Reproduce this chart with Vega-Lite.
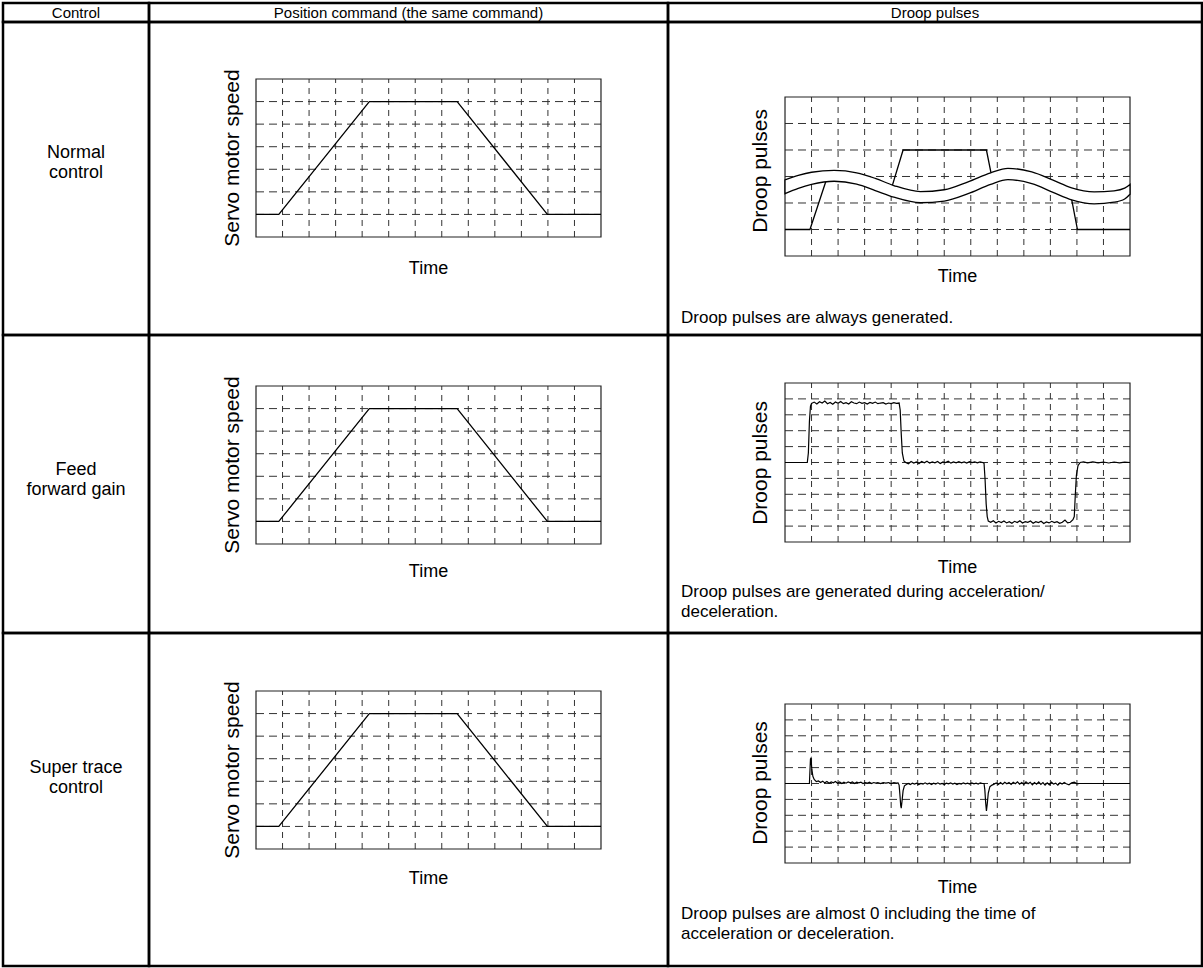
{
  "$schema": "https://vega.github.io/schema/vega-lite/v6.json",
  "background": "white",
  "padding": {"left": 1, "top": 1, "right": 0, "bottom": 1},
  "config": {"font": "Liberation Sans", "view": {"stroke": null}, "text": {"fontSize": 16, "color": "black"}},
  "datasets": {
    "vt": [{"t": 1}, {"t": 2}, {"t": 3}, {"t": 4}, {"t": 5}, {"t": 6}, {"t": 7}, {"t": 8}, {"t": 9}, {"t": 10}, {"t": 11}, {"t": 12}],
    "h7": [{"lv": 1}, {"lv": 2}, {"lv": 3}, {"lv": 4}, {"lv": 5}, {"lv": 6}],
    "h6": [{"lv": 1}, {"lv": 2}, {"lv": 3}, {"lv": 4}, {"lv": 5}],
    "h10": [{"lv": 1}, {"lv": 2}, {"lv": 3}, {"lv": 4}, {"lv": 5}, {"lv": 6}, {"lv": 7}, {"lv": 8}, {"lv": 9}],
    "speed": [{"t": 0, "v": 1}, {"t": 0.86, "v": 1}, {"t": 4.27, "v": 6}, {"t": 7.58, "v": 6}, {"t": 10.98, "v": 1}, {"t": 13, "v": 1}],
    "droop1": [
      {"seg": "a", "t": 0, "v": 1}, {"seg": "a", "t": 0.94, "v": 1}, {"seg": "a", "t": 1.6, "v": 3.0},
      {"seg": "b", "t": 3.98, "v": 2.45}, {"seg": "b", "t": 4.45, "v": 4}, {"seg": "b", "t": 7.59, "v": 4}, {"seg": "b", "t": 7.8, "v": 2.95},
      {"seg": "c", "t": 10.77, "v": 2.3}, {"seg": "c", "t": 11.02, "v": 1}, {"seg": "c", "t": 13, "v": 1}
    ],
    "band": [
      {"t": 0, "top": 2.87, "bot": 2.35}, {"t": 0.5, "top": 3.04, "bot": 2.55}, {"t": 1.0, "top": 3.16, "bot": 2.70},
      {"t": 1.85, "top": 3.23, "bot": 2.82}, {"t": 2.7, "top": 3.14, "bot": 2.71}, {"t": 3.4, "top": 2.93, "bot": 2.47},
      {"t": 4.1, "top": 2.66, "bot": 2.22}, {"t": 5.1, "top": 2.43, "bot": 2.01}, {"t": 6.0, "top": 2.50, "bot": 2.07},
      {"t": 6.9, "top": 2.80, "bot": 2.35}, {"t": 7.75, "top": 3.14, "bot": 2.70}, {"t": 8.4, "top": 3.31, "bot": 2.88},
      {"t": 9.3, "top": 3.17, "bot": 2.73}, {"t": 10.1, "top": 2.86, "bot": 2.40}, {"t": 10.8, "top": 2.57, "bot": 2.12},
      {"t": 11.65, "top": 2.42, "bot": 1.97}, {"t": 12.4, "top": 2.46, "bot": 2.03}, {"t": 12.8, "top": 2.56, "bot": 2.15},
      {"t": 13.0, "top": 2.70, "bot": 2.33}
    ],
    "droop2": [
      {"t": 0, "v": 5.0}, {"t": 0.5, "v": 5.0}, {"t": 0.84, "v": 5.0}, {"t": 0.88, "v": 5.6}, {"t": 0.92, "v": 7.6}, {"t": 0.96, "v": 8.55},
      {"t": 1.0, "v": 8.72}, {"t": 1.1, "v": 8.80}, {"t": 1.2, "v": 8.68}, {"t": 1.3, "v": 8.82}, {"t": 1.4, "v": 8.74}, {"t": 1.5, "v": 8.86},
      {"t": 1.6, "v": 8.70}, {"t": 1.7, "v": 8.78}, {"t": 1.8, "v": 8.66}, {"t": 1.9, "v": 8.80}, {"t": 2.0, "v": 8.72}, {"t": 2.1, "v": 8.84},
      {"t": 2.2, "v": 8.70}, {"t": 2.3, "v": 8.76}, {"t": 2.4, "v": 8.68}, {"t": 2.5, "v": 8.82}, {"t": 2.6, "v": 8.74}, {"t": 2.7, "v": 8.70},
      {"t": 2.8, "v": 8.80}, {"t": 2.9, "v": 8.72}, {"t": 3.0, "v": 8.76}, {"t": 3.1, "v": 8.68}, {"t": 3.2, "v": 8.78}, {"t": 3.3, "v": 8.72},
      {"t": 3.4, "v": 8.80}, {"t": 3.5, "v": 8.70}, {"t": 3.6, "v": 8.74}, {"t": 3.7, "v": 8.76}, {"t": 3.8, "v": 8.68}, {"t": 3.9, "v": 8.74},
      {"t": 4.0, "v": 8.70}, {"t": 4.1, "v": 8.76}, {"t": 4.2, "v": 8.72}, {"t": 4.3, "v": 8.74}, {"t": 4.34, "v": 8.3}, {"t": 4.38, "v": 6.8},
      {"t": 4.42, "v": 5.6}, {"t": 4.48, "v": 5.1}, {"t": 4.55, "v": 5.0}, {"t": 4.65, "v": 4.92}, {"t": 4.75, "v": 5.06}, {"t": 4.85, "v": 4.96},
      {"t": 4.95, "v": 5.04}, {"t": 5.05, "v": 4.94}, {"t": 5.15, "v": 5.06}, {"t": 5.25, "v": 4.98}, {"t": 5.35, "v": 5.08}, {"t": 5.45, "v": 4.96},
      {"t": 5.55, "v": 5.04}, {"t": 5.65, "v": 4.98}, {"t": 5.75, "v": 5.06}, {"t": 5.85, "v": 4.94}, {"t": 5.95, "v": 5.04}, {"t": 6.05, "v": 5.0},
      {"t": 6.15, "v": 5.08}, {"t": 6.25, "v": 4.96}, {"t": 6.35, "v": 5.04}, {"t": 6.45, "v": 4.98}, {"t": 6.55, "v": 5.06}, {"t": 6.65, "v": 4.98},
      {"t": 6.75, "v": 5.04}, {"t": 6.85, "v": 4.96}, {"t": 6.95, "v": 5.06}, {"t": 7.05, "v": 5.0}, {"t": 7.15, "v": 5.04}, {"t": 7.25, "v": 4.98},
      {"t": 7.35, "v": 5.04}, {"t": 7.45, "v": 5.0}, {"t": 7.5, "v": 4.95}, {"t": 7.54, "v": 3.9}, {"t": 7.58, "v": 2.4}, {"t": 7.62, "v": 1.6},
      {"t": 7.66, "v": 1.32}, {"t": 7.75, "v": 1.24}, {"t": 7.85, "v": 1.34}, {"t": 7.95, "v": 1.20}, {"t": 8.05, "v": 1.30}, {"t": 8.15, "v": 1.22},
      {"t": 8.25, "v": 1.32}, {"t": 8.35, "v": 1.20}, {"t": 8.45, "v": 1.28}, {"t": 8.55, "v": 1.18}, {"t": 8.65, "v": 1.30}, {"t": 8.75, "v": 1.22},
      {"t": 8.85, "v": 1.34}, {"t": 8.95, "v": 1.20}, {"t": 9.05, "v": 1.28}, {"t": 9.15, "v": 1.24}, {"t": 9.25, "v": 1.32}, {"t": 9.35, "v": 1.18},
      {"t": 9.45, "v": 1.28}, {"t": 9.55, "v": 1.22}, {"t": 9.65, "v": 1.30}, {"t": 9.75, "v": 1.16}, {"t": 9.85, "v": 1.26}, {"t": 9.95, "v": 1.20},
      {"t": 10.05, "v": 1.30}, {"t": 10.15, "v": 1.22}, {"t": 10.25, "v": 1.28}, {"t": 10.35, "v": 1.18}, {"t": 10.45, "v": 1.24}, {"t": 10.55, "v": 1.38},
      {"t": 10.65, "v": 1.20}, {"t": 10.75, "v": 1.24}, {"t": 10.85, "v": 1.40}, {"t": 10.9, "v": 1.6}, {"t": 10.94, "v": 3.0}, {"t": 10.98, "v": 4.2},
      {"t": 11.04, "v": 4.8}, {"t": 11.12, "v": 5.0}, {"t": 11.25, "v": 5.04}, {"t": 11.4, "v": 4.98}, {"t": 11.6, "v": 5.04}, {"t": 11.8, "v": 4.98},
      {"t": 12.0, "v": 5.03}, {"t": 12.2, "v": 4.97}, {"t": 12.4, "v": 5.03}, {"t": 12.6, "v": 4.98}, {"t": 12.8, "v": 5.02}, {"t": 13.0, "v": 5.0}
    ],
    "droop3": [
      {"t": 0, "v": 5.0}, {"t": 0.5, "v": 5.0}, {"t": 0.92, "v": 5.0}, {"t": 0.94, "v": 5.8}, {"t": 0.96, "v": 6.55}, {"t": 0.98, "v": 6.6},
      {"t": 1.01, "v": 5.9}, {"t": 1.05, "v": 5.45}, {"t": 1.1, "v": 5.25}, {"t": 1.18, "v": 5.12}, {"t": 1.26, "v": 5.16}, {"t": 1.34, "v": 5.06},
      {"t": 1.42, "v": 5.14}, {"t": 1.5, "v": 5.04}, {"t": 1.58, "v": 5.12}, {"t": 1.66, "v": 5.02}, {"t": 1.74, "v": 5.10}, {"t": 1.82, "v": 5.04},
      {"t": 1.9, "v": 5.12}, {"t": 1.98, "v": 5.02}, {"t": 2.06, "v": 5.10}, {"t": 2.14, "v": 5.0}, {"t": 2.22, "v": 5.08}, {"t": 2.3, "v": 5.02},
      {"t": 2.38, "v": 5.10}, {"t": 2.46, "v": 5.04}, {"t": 2.54, "v": 5.10}, {"t": 2.62, "v": 5.0}, {"t": 2.7, "v": 5.08}, {"t": 2.78, "v": 5.04},
      {"t": 2.86, "v": 5.08}, {"t": 2.94, "v": 5.0}, {"t": 3.02, "v": 5.06}, {"t": 3.1, "v": 5.02}, {"t": 3.18, "v": 5.08}, {"t": 3.26, "v": 5.0},
      {"t": 3.34, "v": 5.06}, {"t": 3.42, "v": 5.02}, {"t": 3.5, "v": 5.06}, {"t": 3.6, "v": 5.0}, {"t": 3.7, "v": 5.05}, {"t": 3.8, "v": 5.02},
      {"t": 3.9, "v": 5.06}, {"t": 4.0, "v": 5.0}, {"t": 4.1, "v": 5.05}, {"t": 4.2, "v": 5.02}, {"t": 4.26, "v": 5.04}, {"t": 4.3, "v": 4.9},
      {"t": 4.33, "v": 4.3}, {"t": 4.36, "v": 3.6}, {"t": 4.38, "v": 3.45}, {"t": 4.41, "v": 3.9}, {"t": 4.45, "v": 4.55}, {"t": 4.5, "v": 4.85},
      {"t": 4.56, "v": 4.92}, {"t": 4.64, "v": 5.0}, {"t": 4.72, "v": 4.94}, {"t": 4.8, "v": 5.02}, {"t": 4.88, "v": 4.96}, {"t": 4.96, "v": 5.02},
      {"t": 5.04, "v": 4.94}, {"t": 5.12, "v": 5.0}, {"t": 5.2, "v": 4.96}, {"t": 5.28, "v": 5.04}, {"t": 5.36, "v": 4.96}, {"t": 5.44, "v": 5.02},
      {"t": 5.52, "v": 4.94}, {"t": 5.6, "v": 5.02}, {"t": 5.68, "v": 4.96}, {"t": 5.76, "v": 5.04}, {"t": 5.84, "v": 4.96}, {"t": 5.92, "v": 5.0},
      {"t": 6.0, "v": 4.94}, {"t": 6.08, "v": 5.02}, {"t": 6.16, "v": 4.98}, {"t": 6.24, "v": 5.04}, {"t": 6.32, "v": 4.96}, {"t": 6.4, "v": 5.02},
      {"t": 6.48, "v": 4.94}, {"t": 6.56, "v": 5.0}, {"t": 6.64, "v": 4.96}, {"t": 6.72, "v": 5.04}, {"t": 6.8, "v": 4.98}, {"t": 6.88, "v": 5.02},
      {"t": 6.96, "v": 4.96}, {"t": 7.04, "v": 5.04}, {"t": 7.12, "v": 4.98}, {"t": 7.2, "v": 5.02}, {"t": 7.28, "v": 4.96}, {"t": 7.36, "v": 5.04},
      {"t": 7.44, "v": 5.0}, {"t": 7.5, "v": 5.0}, {"t": 7.53, "v": 4.6}, {"t": 7.56, "v": 3.8}, {"t": 7.59, "v": 3.28}, {"t": 7.62, "v": 3.7},
      {"t": 7.66, "v": 4.4}, {"t": 7.72, "v": 4.8}, {"t": 7.8, "v": 4.9}, {"t": 7.88, "v": 4.96}, {"t": 7.96, "v": 5.04}, {"t": 8.04, "v": 4.94},
      {"t": 8.12, "v": 5.06}, {"t": 8.2, "v": 4.96}, {"t": 8.28, "v": 5.08}, {"t": 8.36, "v": 4.98}, {"t": 8.44, "v": 5.06}, {"t": 8.52, "v": 4.94},
      {"t": 8.6, "v": 5.08}, {"t": 8.68, "v": 4.98}, {"t": 8.76, "v": 5.10}, {"t": 8.84, "v": 4.96}, {"t": 8.92, "v": 5.06}, {"t": 9.0, "v": 4.94},
      {"t": 9.08, "v": 5.10}, {"t": 9.16, "v": 4.98}, {"t": 9.24, "v": 5.08}, {"t": 9.32, "v": 4.92}, {"t": 9.4, "v": 5.06}, {"t": 9.48, "v": 4.96},
      {"t": 9.56, "v": 5.10}, {"t": 9.64, "v": 4.94}, {"t": 9.72, "v": 5.06}, {"t": 9.8, "v": 4.90}, {"t": 9.88, "v": 5.04}, {"t": 9.96, "v": 4.92},
      {"t": 10.04, "v": 5.08}, {"t": 10.12, "v": 4.96}, {"t": 10.2, "v": 5.02}, {"t": 10.28, "v": 4.90}, {"t": 10.36, "v": 5.04}, {"t": 10.44, "v": 4.96},
      {"t": 10.52, "v": 5.06}, {"t": 10.6, "v": 4.98}, {"t": 10.7, "v": 4.92}, {"t": 10.8, "v": 5.04}, {"t": 10.9, "v": 5.08}, {"t": 11.0, "v": 4.98},
      {"t": 11.1, "v": 5.0}, {"t": 11.5, "v": 5.0}, {"t": 12.0, "v": 5.0}, {"t": 13.0, "v": 5.0}
    ]
  },
  "columns": 3,
  "spacing": 0,
  "bounds": "flush",
  "concat": [
    {"width": 146, "height": 19, "view": {"stroke": "black", "strokeWidth": 2.5},
     "data": {"values": [{"label": "Control"}]}, "mark": {"type": "text", "fontSize": 15}, "encoding": {"text": {"field": "label"}}},
    {"width": 519, "height": 19, "view": {"stroke": "black", "strokeWidth": 2.5},
     "data": {"values": [{"label": "Position command (the same command)"}]}, "mark": {"type": "text", "fontSize": 15}, "encoding": {"text": {"field": "label"}}},
    {"width": 534, "height": 19, "view": {"stroke": "black", "strokeWidth": 2.5},
     "data": {"values": [{"label": "Droop pulses"}]}, "mark": {"type": "text", "fontSize": 15}, "encoding": {"text": {"field": "label"}}},

    {"width": 146, "height": 313, "view": {"stroke": "black", "strokeWidth": 2.5},
     "data": {"values": [{"label": "Normal\ncontrol"}]},
     "mark": {"type": "text", "fontSize": 18, "lineBreak": "\n", "lineHeight": 20, "baseline": "alphabetic"},
     "encoding": {"text": {"field": "label"}, "y": {"datum": 3.478, "type": "quantitative", "scale": {"domain": [-4.342, 9.525], "nice": false, "zero": false}, "axis": null}}},
    {"width": 519, "height": 313, "view": {"stroke": "black", "strokeWidth": 2.5},
     "layer": [
       {"data": {"name": "h7"}, "mark": {"type": "rule", "color": "#333", "strokeWidth": 1, "strokeDash": [8, 5]},
        "encoding": {"x": {"datum": 0, "type": "quantitative", "scale": {"domain": [-4.032, 15.525], "nice": false, "zero": false}, "axis": null}, "x2": {"datum": 13},
                     "y": {"field": "lv", "type": "quantitative", "scale": {"domain": [-4.342, 9.525], "nice": false, "zero": false}, "axis": null}}},
       {"data": {"name": "vt"}, "mark": {"type": "rule", "color": "#333", "strokeWidth": 1, "strokeDash": [6, 5]},
        "encoding": {"x": {"field": "t", "type": "quantitative", "scale": {"domain": [-4.032, 15.525], "nice": false, "zero": false}, "axis": null},
                     "y": {"datum": 0, "type": "quantitative", "scale": {"domain": [-4.342, 9.525], "nice": false, "zero": false}, "axis": null}, "y2": {"datum": 7}}},
       {"data": {"values": [{}]}, "mark": {"type": "rect", "fill": null, "stroke": "#222", "strokeWidth": 1.2},
        "encoding": {"x": {"datum": 0, "type": "quantitative", "scale": {"domain": [-4.032, 15.525], "nice": false, "zero": false}, "axis": null}, "x2": {"datum": 13},
                     "y": {"datum": 0, "type": "quantitative", "scale": {"domain": [-4.342, 9.525], "nice": false, "zero": false}, "axis": null}, "y2": {"datum": 7}}},
       {"data": {"name": "speed"}, "mark": {"type": "line", "color": "black", "strokeWidth": 1.3},
        "encoding": {"x": {"field": "t", "type": "quantitative", "scale": {"domain": [-4.032, 15.525], "nice": false, "zero": false}, "axis": null},
                     "y": {"field": "v", "type": "quantitative", "scale": {"domain": [-4.342, 9.525], "nice": false, "zero": false}, "axis": null}}},
       {"data": {"values": [{"label": "Servo motor speed"}]}, "mark": {"type": "text", "angle": 270, "fontSize": 21},
        "encoding": {"text": {"field": "label"}, "x": {"datum": -0.867, "type": "quantitative", "scale": {"domain": [-4.032, 15.525], "nice": false, "zero": false}, "axis": null},
                     "y": {"datum": 3.5, "type": "quantitative", "scale": {"domain": [-4.342, 9.525], "nice": false, "zero": false}, "axis": null}}},
       {"data": {"values": [{"label": "Time"}]}, "mark": {"type": "text", "fontSize": 18},
        "encoding": {"text": {"field": "label"}, "x": {"datum": 6.5, "type": "quantitative", "scale": {"domain": [-4.032, 15.525], "nice": false, "zero": false}, "axis": null},
                     "y": {"datum": -1.418, "type": "quantitative", "scale": {"domain": [-4.342, 9.525], "nice": false, "zero": false}, "axis": null}}}
     ]},
    {"width": 534, "height": 313, "view": {"stroke": "black", "strokeWidth": 2.5},
     "layer": [
       {"data": {"name": "h6"}, "mark": {"type": "rule", "color": "#333", "strokeWidth": 1, "strokeDash": [8, 5]},
        "encoding": {"x": {"datum": 0, "type": "quantitative", "scale": {"domain": [-4.409, 15.713], "nice": false, "zero": false}, "axis": null}, "x2": {"datum": 13},
                     "y": {"field": "lv", "type": "quantitative", "scale": {"domain": [-2.981, 8.830], "nice": false, "zero": false}, "axis": null}}},
       {"data": {"name": "vt"}, "mark": {"type": "rule", "color": "#333", "strokeWidth": 1, "strokeDash": [6, 5]},
        "encoding": {"x": {"field": "t", "type": "quantitative", "scale": {"domain": [-4.409, 15.713], "nice": false, "zero": false}, "axis": null},
                     "y": {"datum": 0, "type": "quantitative", "scale": {"domain": [-2.981, 8.830], "nice": false, "zero": false}, "axis": null}, "y2": {"datum": 6}}},
       {"data": {"values": [{}]}, "mark": {"type": "rect", "fill": null, "stroke": "#222", "strokeWidth": 1.2},
        "encoding": {"x": {"datum": 0, "type": "quantitative", "scale": {"domain": [-4.409, 15.713], "nice": false, "zero": false}, "axis": null}, "x2": {"datum": 13},
                     "y": {"datum": 0, "type": "quantitative", "scale": {"domain": [-2.981, 8.830], "nice": false, "zero": false}, "axis": null}, "y2": {"datum": 6}}},
       {"data": {"name": "droop1"}, "mark": {"type": "line", "color": "black", "strokeWidth": 1.3},
        "encoding": {"detail": {"field": "seg"}, "x": {"field": "t", "type": "quantitative", "scale": {"domain": [-4.409, 15.713], "nice": false, "zero": false}, "axis": null},
                     "y": {"field": "v", "type": "quantitative", "scale": {"domain": [-2.981, 8.830], "nice": false, "zero": false}, "axis": null}}},
       {"data": {"name": "band"}, "mark": {"type": "area", "fill": "white", "fillOpacity": 1, "stroke": "black", "strokeWidth": 1.3, "interpolate": "monotone"},
        "encoding": {"x": {"field": "t", "type": "quantitative", "scale": {"domain": [-4.409, 15.713], "nice": false, "zero": false}, "axis": null},
                     "y": {"field": "top", "type": "quantitative", "scale": {"domain": [-2.981, 8.830], "nice": false, "zero": false}, "axis": null}, "y2": {"field": "bot"}}},
       {"data": {"values": [{"label": "Droop pulses"}]}, "mark": {"type": "text", "angle": 270, "fontSize": 21},
        "encoding": {"text": {"field": "label"}, "x": {"datum": -0.905, "type": "quantitative", "scale": {"domain": [-4.409, 15.713], "nice": false, "zero": false}, "axis": null},
                     "y": {"datum": 3.208, "type": "quantitative", "scale": {"domain": [-2.981, 8.830], "nice": false, "zero": false}, "axis": null}}},
       {"data": {"values": [{"label": "Time"}]}, "mark": {"type": "text", "fontSize": 18},
        "encoding": {"text": {"field": "label"}, "x": {"datum": 6.5, "type": "quantitative", "scale": {"domain": [-4.409, 15.713], "nice": false, "zero": false}, "axis": null},
                     "y": {"datum": -0.792, "type": "quantitative", "scale": {"domain": [-2.981, 8.830], "nice": false, "zero": false}, "axis": null}}},
       {"data": {"values": [{"label": "Droop pulses are always generated."}]}, "mark": {"type": "text", "align": "left", "fontSize": 17},
        "encoding": {"text": {"field": "label"}, "x": {"datum": -3.919, "type": "quantitative", "scale": {"domain": [-4.409, 15.713], "nice": false, "zero": false}, "axis": null},
                     "y": {"datum": -2.34, "type": "quantitative", "scale": {"domain": [-2.981, 8.830], "nice": false, "zero": false}, "axis": null}}}
     ]},

    {"width": 146, "height": 298, "view": {"stroke": "black", "strokeWidth": 2.5},
     "data": {"values": [{"label": "Feed\nforward gain"}]},
     "mark": {"type": "text", "fontSize": 18, "lineBreak": "\n", "lineHeight": 20, "baseline": "alphabetic"},
     "encoding": {"text": {"field": "label"}, "y": {"datum": 3.079, "type": "quantitative", "scale": {"domain": [-3.943, 9.260], "nice": false, "zero": false}, "axis": null}}},
    {"width": 519, "height": 298, "view": {"stroke": "black", "strokeWidth": 2.5},
     "layer": [
       {"data": {"name": "h7"}, "mark": {"type": "rule", "color": "#333", "strokeWidth": 1, "strokeDash": [8, 5]},
        "encoding": {"x": {"datum": 0, "type": "quantitative", "scale": {"domain": [-4.032, 15.525], "nice": false, "zero": false}, "axis": null}, "x2": {"datum": 13},
                     "y": {"field": "lv", "type": "quantitative", "scale": {"domain": [-3.943, 9.260], "nice": false, "zero": false}, "axis": null}}},
       {"data": {"name": "vt"}, "mark": {"type": "rule", "color": "#333", "strokeWidth": 1, "strokeDash": [6, 5]},
        "encoding": {"x": {"field": "t", "type": "quantitative", "scale": {"domain": [-4.032, 15.525], "nice": false, "zero": false}, "axis": null},
                     "y": {"datum": 0, "type": "quantitative", "scale": {"domain": [-3.943, 9.260], "nice": false, "zero": false}, "axis": null}, "y2": {"datum": 7}}},
       {"data": {"values": [{}]}, "mark": {"type": "rect", "fill": null, "stroke": "#222", "strokeWidth": 1.2},
        "encoding": {"x": {"datum": 0, "type": "quantitative", "scale": {"domain": [-4.032, 15.525], "nice": false, "zero": false}, "axis": null}, "x2": {"datum": 13},
                     "y": {"datum": 0, "type": "quantitative", "scale": {"domain": [-3.943, 9.260], "nice": false, "zero": false}, "axis": null}, "y2": {"datum": 7}}},
       {"data": {"name": "speed"}, "mark": {"type": "line", "color": "black", "strokeWidth": 1.3},
        "encoding": {"x": {"field": "t", "type": "quantitative", "scale": {"domain": [-4.032, 15.525], "nice": false, "zero": false}, "axis": null},
                     "y": {"field": "v", "type": "quantitative", "scale": {"domain": [-3.943, 9.260], "nice": false, "zero": false}, "axis": null}}},
       {"data": {"values": [{"label": "Servo motor speed"}]}, "mark": {"type": "text", "angle": 270, "fontSize": 21},
        "encoding": {"text": {"field": "label"}, "x": {"datum": -0.867, "type": "quantitative", "scale": {"domain": [-4.032, 15.525], "nice": false, "zero": false}, "axis": null},
                     "y": {"datum": 3.5, "type": "quantitative", "scale": {"domain": [-3.943, 9.260], "nice": false, "zero": false}, "axis": null}}},
       {"data": {"values": [{"label": "Time"}]}, "mark": {"type": "text", "fontSize": 18},
        "encoding": {"text": {"field": "label"}, "x": {"datum": 6.5, "type": "quantitative", "scale": {"domain": [-4.032, 15.525], "nice": false, "zero": false}, "axis": null},
                     "y": {"datum": -1.241, "type": "quantitative", "scale": {"domain": [-3.943, 9.260], "nice": false, "zero": false}, "axis": null}}}
     ]},
    {"width": 534, "height": 298, "view": {"stroke": "black", "strokeWidth": 2.5},
     "layer": [
       {"data": {"name": "h10"}, "mark": {"type": "rule", "color": "#333", "strokeWidth": 1, "strokeDash": [8, 5]},
        "encoding": {"x": {"datum": 0, "type": "quantitative", "scale": {"domain": [-4.409, 15.713], "nice": false, "zero": false}, "axis": null}, "x2": {"datum": 13},
                     "y": {"field": "lv", "type": "quantitative", "scale": {"domain": [-5.723, 13.019], "nice": false, "zero": false}, "axis": null}}},
       {"data": {"name": "vt"}, "mark": {"type": "rule", "color": "#333", "strokeWidth": 1, "strokeDash": [6, 5]},
        "encoding": {"x": {"field": "t", "type": "quantitative", "scale": {"domain": [-4.409, 15.713], "nice": false, "zero": false}, "axis": null},
                     "y": {"datum": 0, "type": "quantitative", "scale": {"domain": [-5.723, 13.019], "nice": false, "zero": false}, "axis": null}, "y2": {"datum": 10}}},
       {"data": {"values": [{}]}, "mark": {"type": "rect", "fill": null, "stroke": "#222", "strokeWidth": 1.2},
        "encoding": {"x": {"datum": 0, "type": "quantitative", "scale": {"domain": [-4.409, 15.713], "nice": false, "zero": false}, "axis": null}, "x2": {"datum": 13},
                     "y": {"datum": 0, "type": "quantitative", "scale": {"domain": [-5.723, 13.019], "nice": false, "zero": false}, "axis": null}, "y2": {"datum": 10}}},
       {"data": {"name": "droop2"}, "mark": {"type": "line", "color": "black", "strokeWidth": 1.2},
        "encoding": {"x": {"field": "t", "type": "quantitative", "scale": {"domain": [-4.409, 15.713], "nice": false, "zero": false}, "axis": null},
                     "y": {"field": "v", "type": "quantitative", "scale": {"domain": [-5.723, 13.019], "nice": false, "zero": false}, "axis": null}}},
       {"data": {"values": [{"label": "Droop pulses"}]}, "mark": {"type": "text", "angle": 270, "fontSize": 21},
        "encoding": {"text": {"field": "label"}, "x": {"datum": -0.905, "type": "quantitative", "scale": {"domain": [-4.409, 15.713], "nice": false, "zero": false}, "axis": null},
                     "y": {"datum": 4.969, "type": "quantitative", "scale": {"domain": [-5.723, 13.019], "nice": false, "zero": false}, "axis": null}}},
       {"data": {"values": [{"label": "Time"}]}, "mark": {"type": "text", "fontSize": 18},
        "encoding": {"text": {"field": "label"}, "x": {"datum": 6.5, "type": "quantitative", "scale": {"domain": [-4.409, 15.713], "nice": false, "zero": false}, "axis": null},
                     "y": {"datum": -1.635, "type": "quantitative", "scale": {"domain": [-5.723, 13.019], "nice": false, "zero": false}, "axis": null}}},
       {"data": {"values": [{"label": "Droop pulses are generated during acceleration/\ndeceleration."}]},
        "mark": {"type": "text", "align": "left", "baseline": "alphabetic", "fontSize": 17, "lineBreak": "\n", "lineHeight": 20},
        "encoding": {"text": {"field": "label"}, "x": {"datum": -3.919, "type": "quantitative", "scale": {"domain": [-4.409, 15.713], "nice": false, "zero": false}, "axis": null},
                     "y": {"datum": -3.459, "type": "quantitative", "scale": {"domain": [-5.723, 13.019], "nice": false, "zero": false}, "axis": null}}}
     ]},

    {"width": 146, "height": 333, "view": {"stroke": "black", "strokeWidth": 2.5},
     "data": {"values": [{"label": "Super trace\ncontrol"}]},
     "mark": {"type": "text", "fontSize": 18, "lineBreak": "\n", "lineHeight": 20, "baseline": "alphabetic"},
     "encoding": {"text": {"field": "label"}, "y": {"datum": 3.389, "type": "quantitative", "scale": {"domain": [-5.184, 9.570], "nice": false, "zero": false}, "axis": null}}},
    {"width": 519, "height": 333, "view": {"stroke": "black", "strokeWidth": 2.5},
     "layer": [
       {"data": {"name": "h7"}, "mark": {"type": "rule", "color": "#333", "strokeWidth": 1, "strokeDash": [8, 5]},
        "encoding": {"x": {"datum": 0, "type": "quantitative", "scale": {"domain": [-4.032, 15.525], "nice": false, "zero": false}, "axis": null}, "x2": {"datum": 13},
                     "y": {"field": "lv", "type": "quantitative", "scale": {"domain": [-5.184, 9.570], "nice": false, "zero": false}, "axis": null}}},
       {"data": {"name": "vt"}, "mark": {"type": "rule", "color": "#333", "strokeWidth": 1, "strokeDash": [6, 5]},
        "encoding": {"x": {"field": "t", "type": "quantitative", "scale": {"domain": [-4.032, 15.525], "nice": false, "zero": false}, "axis": null},
                     "y": {"datum": 0, "type": "quantitative", "scale": {"domain": [-5.184, 9.570], "nice": false, "zero": false}, "axis": null}, "y2": {"datum": 7}}},
       {"data": {"values": [{}]}, "mark": {"type": "rect", "fill": null, "stroke": "#222", "strokeWidth": 1.2},
        "encoding": {"x": {"datum": 0, "type": "quantitative", "scale": {"domain": [-4.032, 15.525], "nice": false, "zero": false}, "axis": null}, "x2": {"datum": 13},
                     "y": {"datum": 0, "type": "quantitative", "scale": {"domain": [-5.184, 9.570], "nice": false, "zero": false}, "axis": null}, "y2": {"datum": 7}}},
       {"data": {"name": "speed"}, "mark": {"type": "line", "color": "black", "strokeWidth": 1.3},
        "encoding": {"x": {"field": "t", "type": "quantitative", "scale": {"domain": [-4.032, 15.525], "nice": false, "zero": false}, "axis": null},
                     "y": {"field": "v", "type": "quantitative", "scale": {"domain": [-5.184, 9.570], "nice": false, "zero": false}, "axis": null}}},
       {"data": {"values": [{"label": "Servo motor speed"}]}, "mark": {"type": "text", "angle": 270, "fontSize": 21},
        "encoding": {"text": {"field": "label"}, "x": {"datum": -0.867, "type": "quantitative", "scale": {"domain": [-4.032, 15.525], "nice": false, "zero": false}, "axis": null},
                     "y": {"datum": 3.5, "type": "quantitative", "scale": {"domain": [-5.184, 9.570], "nice": false, "zero": false}, "axis": null}}},
       {"data": {"values": [{"label": "Time"}]}, "mark": {"type": "text", "fontSize": 18},
        "encoding": {"text": {"field": "label"}, "x": {"datum": 6.5, "type": "quantitative", "scale": {"domain": [-4.032, 15.525], "nice": false, "zero": false}, "axis": null},
                     "y": {"datum": -1.329, "type": "quantitative", "scale": {"domain": [-5.184, 9.570], "nice": false, "zero": false}, "axis": null}}}
     ]},
    {"width": 534, "height": 333, "view": {"stroke": "black", "strokeWidth": 2.5},
     "layer": [
       {"data": {"name": "h10"}, "mark": {"type": "rule", "color": "#333", "strokeWidth": 1, "strokeDash": [8, 5]},
        "encoding": {"x": {"datum": 0, "type": "quantitative", "scale": {"domain": [-4.409, 15.713], "nice": false, "zero": false}, "axis": null}, "x2": {"datum": 13},
                     "y": {"field": "lv", "type": "quantitative", "scale": {"domain": [-6.478, 14.465], "nice": false, "zero": false}, "axis": null}}},
       {"data": {"name": "vt"}, "mark": {"type": "rule", "color": "#333", "strokeWidth": 1, "strokeDash": [6, 5]},
        "encoding": {"x": {"field": "t", "type": "quantitative", "scale": {"domain": [-4.409, 15.713], "nice": false, "zero": false}, "axis": null},
                     "y": {"datum": 0, "type": "quantitative", "scale": {"domain": [-6.478, 14.465], "nice": false, "zero": false}, "axis": null}, "y2": {"datum": 10}}},
       {"data": {"values": [{}]}, "mark": {"type": "rect", "fill": null, "stroke": "#222", "strokeWidth": 1.2},
        "encoding": {"x": {"datum": 0, "type": "quantitative", "scale": {"domain": [-4.409, 15.713], "nice": false, "zero": false}, "axis": null}, "x2": {"datum": 13},
                     "y": {"datum": 0, "type": "quantitative", "scale": {"domain": [-6.478, 14.465], "nice": false, "zero": false}, "axis": null}, "y2": {"datum": 10}}},
       {"data": {"name": "droop3"}, "mark": {"type": "line", "color": "black", "strokeWidth": 1.2},
        "encoding": {"x": {"field": "t", "type": "quantitative", "scale": {"domain": [-4.409, 15.713], "nice": false, "zero": false}, "axis": null},
                     "y": {"field": "v", "type": "quantitative", "scale": {"domain": [-6.478, 14.465], "nice": false, "zero": false}, "axis": null}}},
       {"data": {"values": [{"label": "Droop pulses"}]}, "mark": {"type": "text", "angle": 270, "fontSize": 21},
        "encoding": {"text": {"field": "label"}, "x": {"datum": -0.905, "type": "quantitative", "scale": {"domain": [-4.409, 15.713], "nice": false, "zero": false}, "axis": null},
                     "y": {"datum": 5.031, "type": "quantitative", "scale": {"domain": [-6.478, 14.465], "nice": false, "zero": false}, "axis": null}}},
       {"data": {"values": [{"label": "Time"}]}, "mark": {"type": "text", "fontSize": 18},
        "encoding": {"text": {"field": "label"}, "x": {"datum": 6.5, "type": "quantitative", "scale": {"domain": [-4.409, 15.713], "nice": false, "zero": false}, "axis": null},
                     "y": {"datum": -1.572, "type": "quantitative", "scale": {"domain": [-6.478, 14.465], "nice": false, "zero": false}, "axis": null}}},
       {"data": {"values": [{"label": "Droop pulses are almost 0 including the time of\nacceleration or deceleration."}]},
        "mark": {"type": "text", "align": "left", "baseline": "alphabetic", "fontSize": 17, "lineBreak": "\n", "lineHeight": 20},
        "encoding": {"text": {"field": "label"}, "x": {"datum": -3.919, "type": "quantitative", "scale": {"domain": [-4.409, 15.713], "nice": false, "zero": false}, "axis": null},
                     "y": {"datum": -3.522, "type": "quantitative", "scale": {"domain": [-6.478, 14.465], "nice": false, "zero": false}, "axis": null}}}
     ]}
  ]
}
